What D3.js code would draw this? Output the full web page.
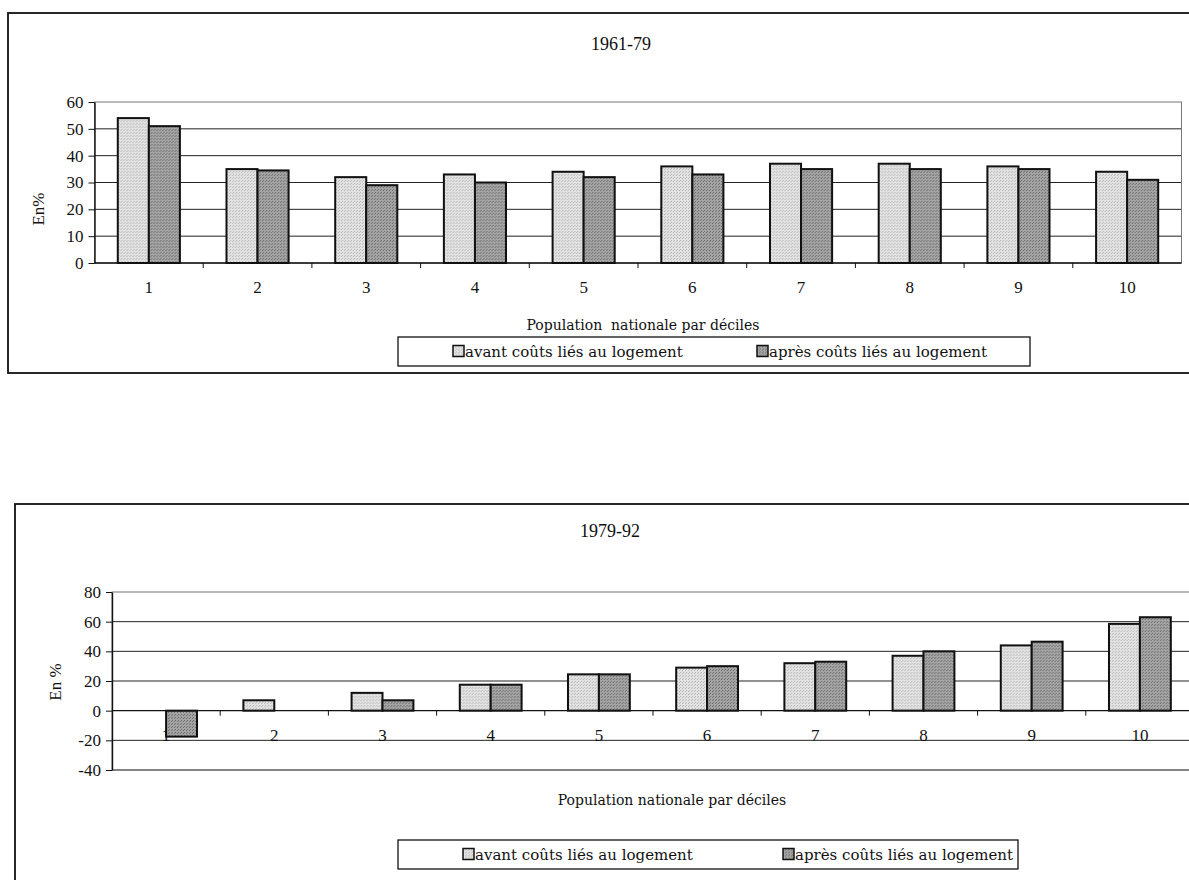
<!DOCTYPE html>
<html>
<head>
<meta charset="utf-8">
<script src="https://cdn.jsdelivr.net/npm/d3@7"></script>
<style>
  body { margin: 0; background: #fff; }
  text { font-family: "Liberation Serif", serif; fill: #111; }
  text.words { font-family: "DejaVu Serif", serif; }
</style>
</head>
<body>
<svg id="chart"></svg>
<script>
// deciles de la population nationale
var deciles = ["1", "2", "3", "4", "5", "6", "7", "8", "9", "10"];

// 1961-79, en %
var avant6179 = [54, 35, 32, 33, 34, 36, 37, 37, 36, 34];
var apres6179 = [51, 34.5, 29, 30, 32, 33, 35, 35, 35, 31];
var ticks6179 = [0, 10, 20, 30, 40, 50, 60];

// 1979-92, en %
var avant7992 = [0, 7, 12, 17.5, 24.5, 29, 32, 37, 44, 58.5];
var apres7992 = [-17.5, 0, 7, 17.5, 24.5, 30, 33, 40, 46.5, 63];
var ticks7992 = [-40, -20, 0, 20, 40, 60, 80];

var series = ["avant", "apres"];
var legendLabels = ["avant coûts liés au logement", "après coûts liés au logement"];

var svg = d3.select("#chart")
    .attr("width", 1189)
    .attr("height", 880);

// trame des barres (aspect grisé)
var defs = svg.append("defs");
function stipple(id, base, dot) {
    var p = defs.append("pattern")
        .attr("id", id)
        .attr("width", 3).attr("height", 3)
        .attr("patternUnits", "userSpaceOnUse");
    p.append("rect").attr("width", 3).attr("height", 3).attr("fill", base);
    p.append("rect").attr("x", 0).attr("y", 0).attr("width", 1).attr("height", 1).attr("fill", dot);
    p.append("rect").attr("x", 2).attr("y", 1).attr("width", 1).attr("height", 1).attr("fill", dot);
}
stipple("light", "#e2e2e2", "#b8b8b8");
stipple("dark", "#a4a4a4", "#6e6e6e");
var fills = { avant: "url(#light)", apres: "url(#dark)" };

function drawChart(o) {
    var g = svg.append("g");

    // cadre
    g.append("rect")
        .attr("x", o.frame[0]).attr("y", o.frame[1])
        .attr("width", o.frame[2]).attr("height", o.frame[3])
        .attr("fill", "none").attr("stroke", "#111").attr("stroke-width", 1.8);

    g.append("text")
        .attr("x", o.titleX).attr("y", o.titleY)
        .attr("text-anchor", "middle")
        .style("font-size", "18px")
        .text(o.title);

    var y = d3.scaleLinear().domain(o.domain).range([o.bottom, o.top]);
    var x0 = d3.scaleBand().domain(deciles).range([o.left, o.right]);
    var x1 = d3.scaleBand().domain(series).range([0, x0.bandwidth()]).paddingOuter(0.75);

    // quadrillage
    g.selectAll(".grid")
        .data(o.ticks.filter(function(t) { return t != 0 && t != o.domain[1]; }))
        .enter().append("line")
        .attr("x1", o.left).attr("x2", o.right)
        .attr("y1", function(d) { return y(d); })
        .attr("y2", function(d) { return y(d); })
        .attr("stroke", "#222").attr("stroke-width", 1);

    // bord de la zone de tracé
    g.append("rect")
        .attr("x", o.left).attr("y", o.top)
        .attr("width", o.right - o.left).attr("height", o.bottom - o.top)
        .attr("fill", "none").attr("stroke", "#777").attr("stroke-width", 1);

    // étiquettes des déciles (sous les barres, comme l'original)
    g.selectAll(".xl")
        .data(deciles)
        .enter().append("text")
        .attr("x", function(d) { return x0(d) + x0.bandwidth() / 2; })
        .attr("y", y(0) + 30)
        .attr("text-anchor", "middle")
        .style("font-size", "17px")
        .text(function(d) { return d; });

    var rows = deciles.map(function(d, i) {
        return { d: d, avant: o.avant[i], apres: o.apres[i] };
    });

    g.selectAll(".grp")
        .data(rows)
        .enter().append("g")
        .attr("transform", function(r) { return "translate(" + x0(r.d) + ",0)"; })
        .selectAll("rect")
        .data(function(r) {
            return series.map(function(s) { return { s: s, v: r[s] }; })
                .filter(function(b) { return b.v != 0; });
        })
        .enter().append("rect")
        .attr("x", function(b) { return x1(b.s); })
        .attr("width", x1.bandwidth())
        .attr("y", function(b) { return y(Math.max(0, b.v)); })
        .attr("height", function(b) { return Math.abs(y(b.v) - y(0)); })
        .attr("fill", function(b) { return fills[b.s]; })
        .attr("stroke", "#111").attr("stroke-width", 2);

    // axe des ordonnées
    var ya = g.append("g")
        .attr("transform", "translate(" + o.left + ",0)")
        .call(d3.axisLeft(y).tickValues(o.ticks).tickSize(6).tickPadding(5).tickSizeOuter(0)
            .tickFormat(function(d) { return String(d); }));
    ya.select(".domain").attr("stroke", "#111").attr("stroke-width", 1.4);
    ya.selectAll("line").attr("stroke", "#111");
    ya.selectAll("text").style("font-size", "17px").style("font-family", "Liberation Serif");

    // axe des abscisses à zéro
    g.append("line")
        .attr("x1", o.left).attr("x2", o.right)
        .attr("y1", y(0)).attr("y2", y(0))
        .attr("stroke", "#111").attr("stroke-width", 1.4);
    g.selectAll(".xt")
        .data(deciles.slice(1))
        .enter().append("line")
        .attr("x1", function(d) { return x0(d); })
        .attr("x2", function(d) { return x0(d); })
        .attr("y1", y(0)).attr("y2", y(0) + 5)
        .attr("stroke", "#111");

    g.append("text")
        .attr("transform", "translate(" + o.yLabel[0] + "," + o.yLabel[1] + ") rotate(-90)")
        .attr("text-anchor", "middle")
        .style("font-size", "17px")
        .text(o.yTitle);

    g.append("text")
        .attr("class", "words")
        .attr("x", o.xTitle[0]).attr("y", o.xTitle[1])
        .attr("text-anchor", "middle")
        .style("font-size", "14px")
        .style("white-space", "pre")
        .text(o.xTitleText);

    // légende
    var lg = g.append("g");
    lg.append("rect")
        .attr("x", o.legend[0]).attr("y", o.legend[1])
        .attr("width", o.legend[2]).attr("height", o.legend[3])
        .attr("fill", "#fff").attr("stroke", "#111").attr("stroke-width", 1.3);
    var items = lg.selectAll(".it")
        .data(series)
        .enter().append("g")
        .attr("transform", function(s, i) {
            return "translate(" + o.legendItems[i] + "," + (o.legend[1] + o.legend[3] / 2) + ")";
        });
    items.append("rect")
        .attr("x", 0).attr("y", -6).attr("width", 11).attr("height", 11)
        .attr("fill", function(s) { return fills[s]; })
        .attr("stroke", "#111").attr("stroke-width", 1.5);
    items.append("text")
        .attr("class", "words")
        .attr("x", 12).attr("y", 5)
        .style("font-size", "15px")
        .text(function(s, i) { return legendLabels[i]; });
}

drawChart({
    frame: [8, 13, 1200, 360],
    title: "1961-79", titleX: 621, titleY: 50,
    domain: [0, 60], ticks: ticks6179,
    top: 102, bottom: 263, left: 94.5, right: 1181.5,
    avant: avant6179, apres: apres6179,
    yTitle: "En%", yLabel: [44, 209],
    xTitleText: "Population  nationale par déciles", xTitle: [643, 330],
    legend: [398, 337, 632, 29], legendItems: [453, 757]
});

drawChart({
    frame: [15, 504, 1200, 400],
    title: "1979-92", titleX: 610, titleY: 537,
    domain: [-40, 80], ticks: ticks7992,
    top: 592, bottom: 770, left: 112, right: 1194,
    avant: avant7992, apres: apres7992,
    yTitle: "En %", yLabel: [61, 682],
    xTitleText: "Population nationale par déciles", xTitle: [672, 805],
    legend: [398, 840, 620, 29], legendItems: [463, 783]
});
</script>
</body>
</html>
